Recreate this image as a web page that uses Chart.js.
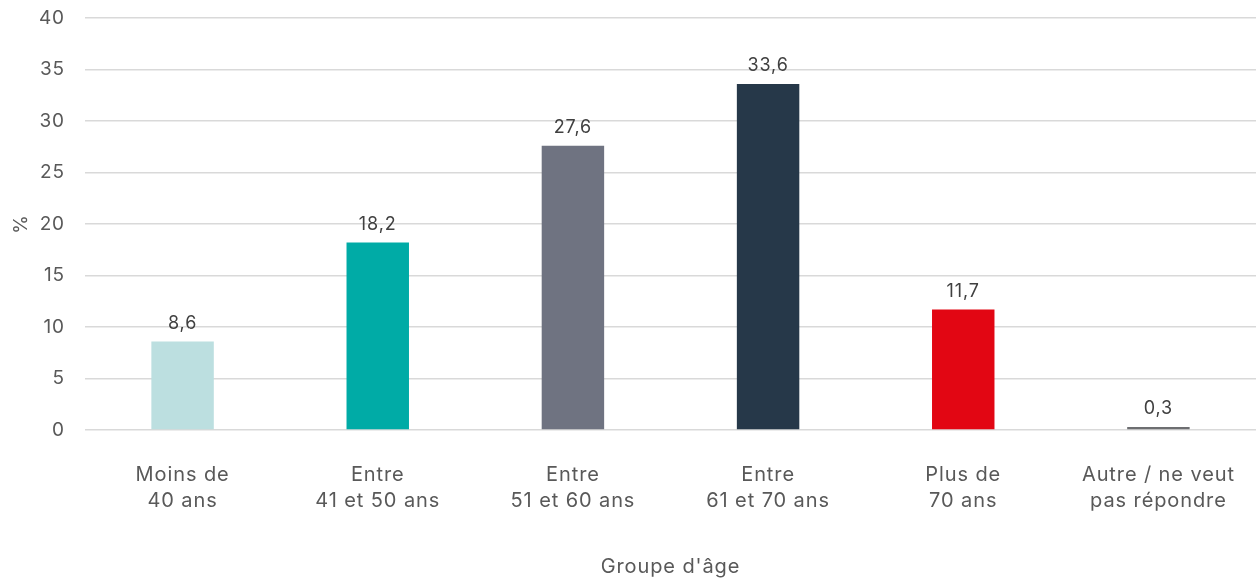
<!DOCTYPE html>
<html>
<head>
<meta charset="utf-8">
<script src="https://cdn.jsdelivr.net/npm/chart.js@4"></script>
<style>
html,body{margin:0;padding:0;background:#fff;}
#wrap{width:1256px;height:579px;position:relative;}
</style>
</head>
<body>
<div id="wrap"><canvas id="c"></canvas></div>
<script>
const categories = [["Moins de","40 ans"],["Entre","41 et 50 ans"],["Entre","51 et 60 ans"],["Entre","61 et 70 ans"],["Plus de","70 ans"],["Autre / ne veut","pas répondre"]];
const values = [8.6, 18.2, 27.6, 33.6, 11.7, 0.3];
const barColors = ["#BCDFE0","#00ABA6","#6F7381","#263849","#E20613","#6D6E71"];
const yTitle = "%";
const xTitle = "Groupe d'âge";

const FONT = "Inter, 'Noto Sans', sans-serif";
const TXT = "#595959";

const spacingPlugin = {
  id: 'spacing',
  beforeDraw(chart) { try { chart.ctx.letterSpacing = "0.9px"; } catch (e) {} }
};

const labelPlugin = {
  id: 'vals',
  afterDatasetsDraw(chart) {
    const ctx = chart.ctx;
    const meta = chart.getDatasetMeta(0);
    ctx.save();
    ctx.font = "18px " + FONT;
    ctx.fillStyle = "#404040";
    ctx.textAlign = "center";
    ctx.textBaseline = "bottom";
    meta.data.forEach((el, i) => {
      ctx.fillText(values[i].toFixed(1).replace('.', ','), el.x, el.y - 9);
    });
    ctx.restore();
  }
};

new Chart(document.getElementById('c'), {
  type: 'bar',
  data: {
    labels: categories,
    datasets: [{
      data: values,
      backgroundColor: barColors,
      barPercentage: 0.64,
      categoryPercentage: 0.5
    }]
  },
  options: {
    responsive: true,
    maintainAspectRatio: false,
    animation: false,
    layout: { padding: { top: 18, right: 0, left: 0, bottom: 0 } },
    plugins: { legend: { display: false }, tooltip: { enabled: false } },
    scales: {
      x: {
        grid: { display: false },
        border: { display: false },
        ticks: { color: TXT, font: { family: FONT, size: 20, lineHeight: 1.3 }, padding: 24, maxRotation: 0, autoSkip: false },
        title: { display: true, text: xTitle, color: TXT, font: { family: FONT, size: 20 }, padding: { top: 22, bottom: 0 } },
        afterFit(s) { s.height = 149; }
      },
      y: {
        min: 0, max: 40,
        ticks: { stepSize: 5, color: TXT, font: { family: FONT, size: 19 }, padding: 20 },
        grid: { color: "#D9D9D9", lineWidth: 1.5, drawTicks: false },
        border: { display: false },
        title: { display: true, text: yTitle, color: TXT, font: { family: FONT, size: 19 }, padding: { top: 10, bottom: 0 } },
        afterFit(s) { s.width = 85; s.paddingTop = 0; s.paddingBottom = 0; }
      }
    }
  },
  plugins: [spacingPlugin, labelPlugin]
});
</script>
</body>
</html>
